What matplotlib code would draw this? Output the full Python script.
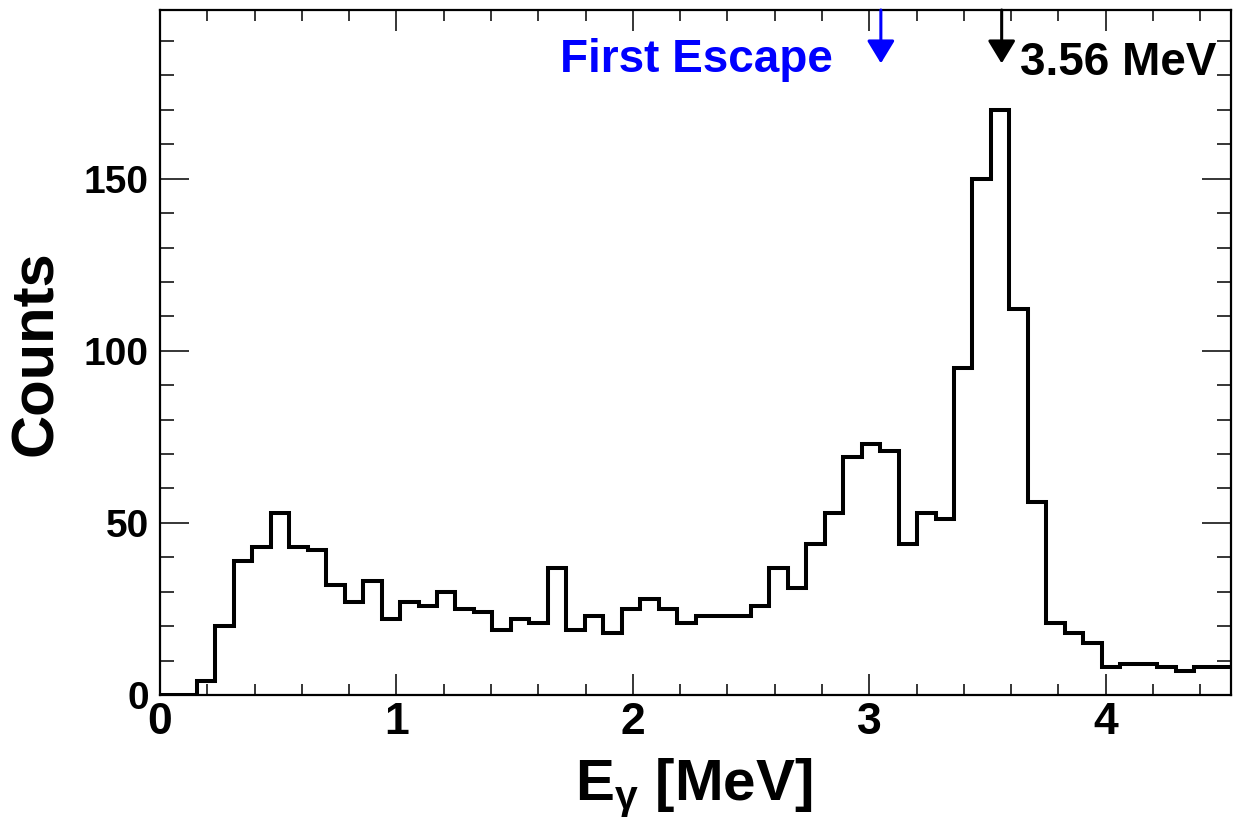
import numpy as np
import matplotlib
matplotlib.use("Agg")
import matplotlib.pyplot as plt

plt.rcParams['font.family'] = ['Liberation Sans', 'DejaVu Sans']
plt.rcParams['font.weight'] = 'bold'
plt.rcParams['mathtext.default'] = 'regular'

# ---- data ----
x_min, x_max = 0.0, 4.53
counts = [0, 0, 4, 20, 39, 43, 53, 43, 42, 32,
          27, 33, 22, 27, 26, 30, 25, 24, 19, 22,
          21, 37, 19, 23, 18, 25, 28, 25, 21, 23,
          23, 23, 26, 37, 31, 44, 53, 69, 73, 71,
          44, 53, 51, 95, 150, 170, 112, 56, 21, 18,
          15, 8, 9, 9, 8, 7, 8, 8]
peak_energy = 3.56
escape_energy = 3.56 - 0.511
x_ticks = [0, 1, 2, 3, 4]
y_ticks = [0, 50, 100, 150]
y_max = 199

edges = np.linspace(x_min, x_max, len(counts) + 1)

W, H = 1235, 827
fig = plt.figure(figsize=(W / 100, H / 100), dpi=100)
ax = fig.add_axes([160 / W, 132 / H, 1071 / W, 685 / H])

ax.stairs(counts, edges, baseline=None, color='black', lw=2.9)

ax.set_xlim(x_min, x_max)
ax.set_ylim(0, y_max)
ax.set_xticks(x_ticks)
ax.set_yticks(y_ticks)
ax.set_xticks(np.arange(0, 4.6, 0.2), minor=True)
ax.set_yticks(np.arange(0, 200, 10), minor=True)
ax.tick_params(which='both', direction='in', top=True, right=True, width=1.1)
ax.tick_params(axis='x', which='major', length=15, labelsize=32, pad=5)
ax.tick_params(axis='x', which='minor', length=8)
ax.tick_params(axis='y', which='major', length=21, labelsize=28, pad=8)
ax.tick_params(axis='y', which='minor', length=10)
for s in ax.spines.values():
    s.set_linewidth(1.6)
for lab in ax.get_xticklabels() + ax.get_yticklabels():
    lab.set_fontweight('bold')

fig.text(37 / W, 1 - 353 / H, 'Counts', rotation=90, ha='center', va='center',
         fontsize=43, fontweight='bold')
fig.text(694 / W, 27 / H, r'E$_{γ}$ [MeV]', ha='center', va='baseline',
         fontsize=42, fontweight='bold')

arrow_style = '-|>,head_length=1.4,head_width=0.85'
ax.annotate('', xy=(escape_energy, 183.5), xytext=(escape_energy, y_max),
            arrowprops=dict(arrowstyle=arrow_style, color='blue', lw=2.2,
                            mutation_scale=10, shrinkA=0, shrinkB=0))
ax.annotate('', xy=(peak_energy, 183.5), xytext=(peak_energy, y_max),
            arrowprops=dict(arrowstyle=arrow_style, color='black', lw=2.2,
                            mutation_scale=10, shrinkA=0, shrinkB=0))
ax.text(2.846, 181, 'First Escape', color='blue', ha='right', va='baseline',
        fontsize=33, fontweight='bold')
ax.text(3.636, 180, '3.56 MeV', color='black', ha='left', va='baseline',
        fontsize=33, fontweight='bold')

fig.savefig('out.png', dpi=100)
